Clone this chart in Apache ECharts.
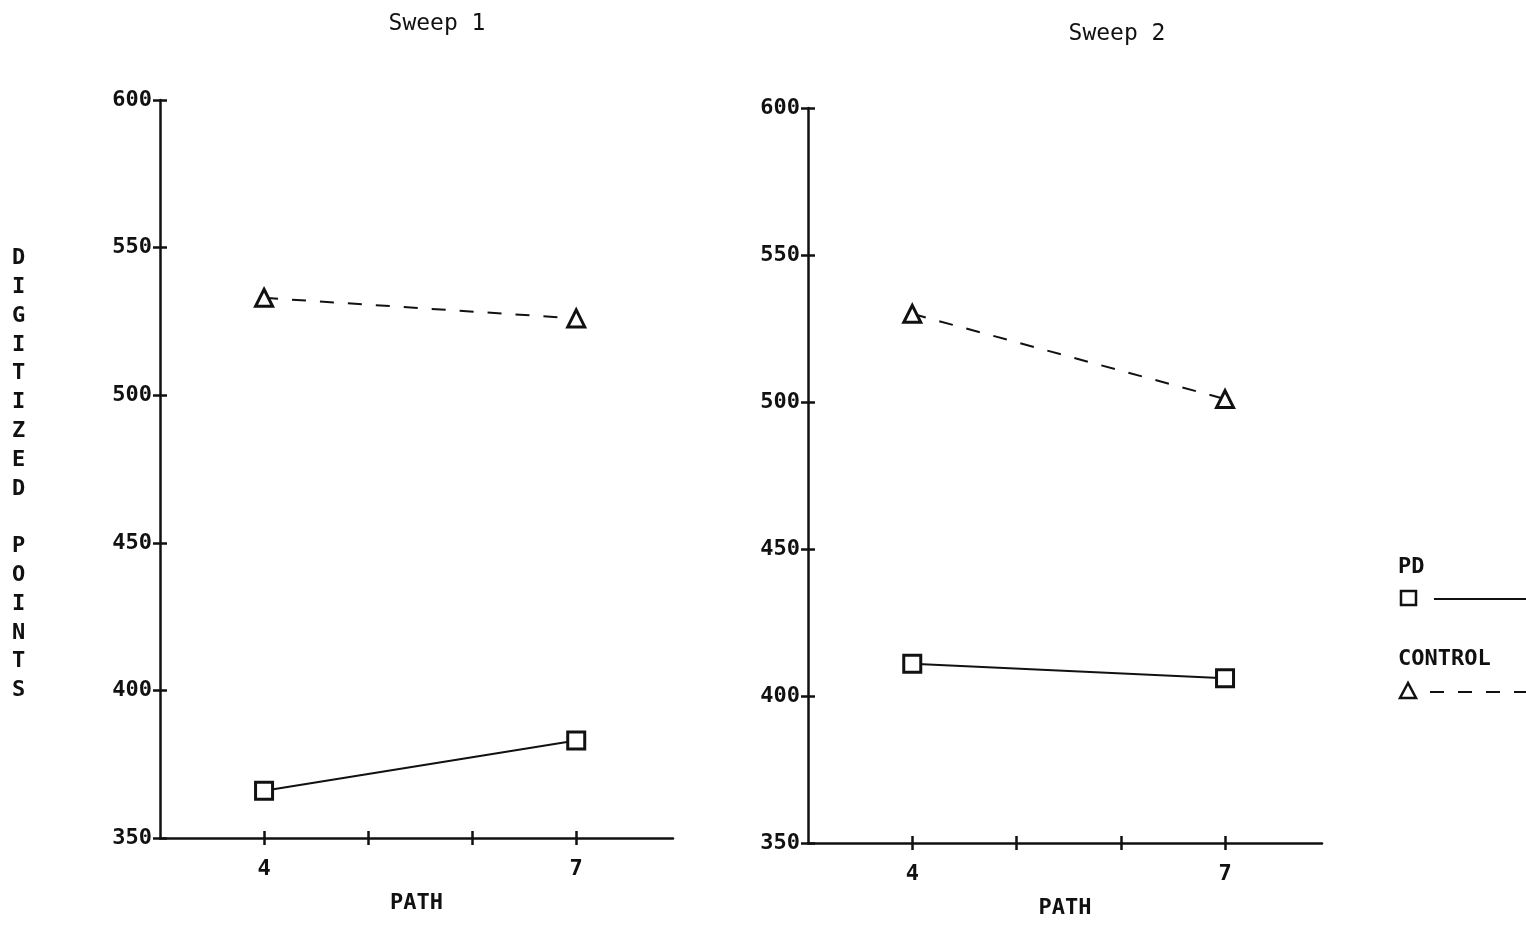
<!DOCTYPE html>
<html>
<head>
<meta charset="utf-8">
<script src="https://cdn.jsdelivr.net/npm/echarts@6/dist/echarts.min.js"></script>
<style>
  html, body { margin: 0; padding: 0; background: #fff; }
  #chart { width: 1526px; height: 926px; }
</style>
</head>
<body>
<div id="chart"></div>
<script>
// values
const paths = [4, 7]
const pathTicks = [4, 5, 6, 7]
const sweep1PD = [366, 383]
const sweep1Control = [533, 526]
const sweep2PD = [411, 406]
const sweep2Control = [530, 501]
const panelTitles = ['Sweep 1', 'Sweep 2']
const seriesNames = ['PD', 'CONTROL']

const font = 'DejaVu Sans Mono'
const ink = '#111'

function pairs(vals) {
  return paths.map((p, i) => [p, vals[i]])
}

// main axis (labels, outer ticks)
function xMain(grid) {
  return {
    type: 'value', gridIndex: grid, position: 'bottom', min: 3, max: 7.93, interval: 1,
    name: 'PATH', nameLocation: 'middle', nameGap: 54,
    nameTextStyle: { fontFamily: font, fontSize: 22, fontWeight: 'bold', color: ink },
    axisLine: { lineStyle: { color: ink, width: 2.5 } },
    axisTick: { length: 7, customValues: pathTicks, lineStyle: { color: ink, width: 2.5 } },
    splitLine: { show: false },
    axisLabel: {
      margin: 20, fontFamily: font, fontSize: 22, fontWeight: 'bold', color: ink,
      customValues: paths
    }
  }
}
// second axis only for the inner half of the cross ticks
function xInner(grid) {
  return {
    type: 'value', gridIndex: grid, position: 'bottom', min: 3, max: 7.93, interval: 1,
    axisLine: { show: false },
    axisTick: { inside: true, length: 7, customValues: pathTicks, lineStyle: { color: ink, width: 2.5 } },
    axisLabel: { show: false }, splitLine: { show: false }
  }
}
function yMain(grid) {
  return {
    type: 'value', gridIndex: grid, position: 'left', min: 350, max: 600, interval: 50,
    axisLine: { show: true, lineStyle: { color: ink, width: 2.5 } },
    axisTick: { show: true, length: 7, lineStyle: { color: ink, width: 2.5 } },
    splitLine: { show: false },
    axisLabel: {
      margin: 8, fontFamily: font, fontSize: 22, fontWeight: 'bold', color: ink,
      padding: [0, 0, 10, 0]
    }
  }
}
function yInner(grid) {
  return {
    type: 'value', gridIndex: grid, position: 'left', min: 350, max: 600, interval: 50,
    axisLine: { show: false },
    axisTick: { show: true, inside: true, length: 7, lineStyle: { color: ink, width: 2.5 } },
    axisLabel: { show: false }, splitLine: { show: false }
  }
}

function pdSeries(axis, vals) {
  return {
    name: seriesNames[0], type: 'line', xAxisIndex: axis, yAxisIndex: axis,
    data: pairs(vals), symbol: 'rect', symbolSize: 17, z: 3,
    lineStyle: { color: ink, width: 2 },
    itemStyle: { color: '#fff', borderColor: ink, borderWidth: 3 }
  }
}
function controlSeries(axis, vals) {
  return {
    name: seriesNames[1], type: 'line', xAxisIndex: axis, yAxisIndex: axis,
    data: pairs(vals), symbol: 'triangle', symbolSize: 17, z: 3,
    lineStyle: { color: ink, width: 2, type: [14, 14] },
    itemStyle: { color: '#fff', borderColor: ink, borderWidth: 3 }
  }
}

const chart = echarts.init(document.getElementById('chart'), null, { renderer: 'canvas' })
chart.setOption({
  backgroundColor: '#fff',
  animation: false,
  title: [
    { text: panelTitles[0], left: 432, top: 8, textAlign: 'center',
      textStyle: { fontFamily: font, fontSize: 23, fontWeight: 'normal', color: ink } },
    { text: panelTitles[1], left: 1112, top: 18, textAlign: 'center',
      textStyle: { fontFamily: font, fontSize: 23, fontWeight: 'normal', color: ink } }
  ],
  grid: [
    { left: 160, top: 100, width: 513, height: 738 },
    { left: 808, top: 108, width: 514, height: 735 }
  ],
  xAxis: [xMain(0), xMain(1), xInner(0), xInner(1)],
  yAxis: [yMain(0), yMain(1), yInner(0), yInner(1)],
  series: [
    pdSeries(0, sweep1PD),
    controlSeries(0, sweep1Control),
    pdSeries(1, sweep2PD),
    controlSeries(1, sweep2Control)
  ],
  graphic: [
    // vertical y-axis title, one letter per line
    {
      type: 'text', left: 12, top: 244,
      style: {
        text: 'DIGITIZED POINTS'.split('').join('\n'),
        font: 'bold 22px "' + font + '"', fill: ink, lineHeight: 28.8, align: 'center'
      }
    },
    // legend
    { type: 'text', left: 1398, top: 556,
      style: { text: seriesNames[0], font: 'bold 22px "' + font + '"', fill: ink } },
    { type: 'rect', shape: { x: 1401, y: 591, width: 15, height: 14 },
      style: { fill: '#fff', stroke: ink, lineWidth: 2.5 } },
    { type: 'line', shape: { x1: 1434, y1: 599, x2: 1526, y2: 599 },
      style: { stroke: ink, lineWidth: 2 } },
    { type: 'text', left: 1398, top: 648,
      style: { text: seriesNames[1], font: 'bold 22px "' + font + '"', fill: ink } },
    { type: 'polygon', shape: { points: [[1408, 683], [1400, 698], [1416, 698]] },
      style: { fill: '#fff', stroke: ink, lineWidth: 2.5 } },
    { type: 'line', shape: { x1: 1430, y1: 692, x2: 1526, y2: 692 },
      style: { stroke: ink, lineWidth: 2, lineDash: [14, 14] } }
  ]
})
</script>
</body>
</html>
